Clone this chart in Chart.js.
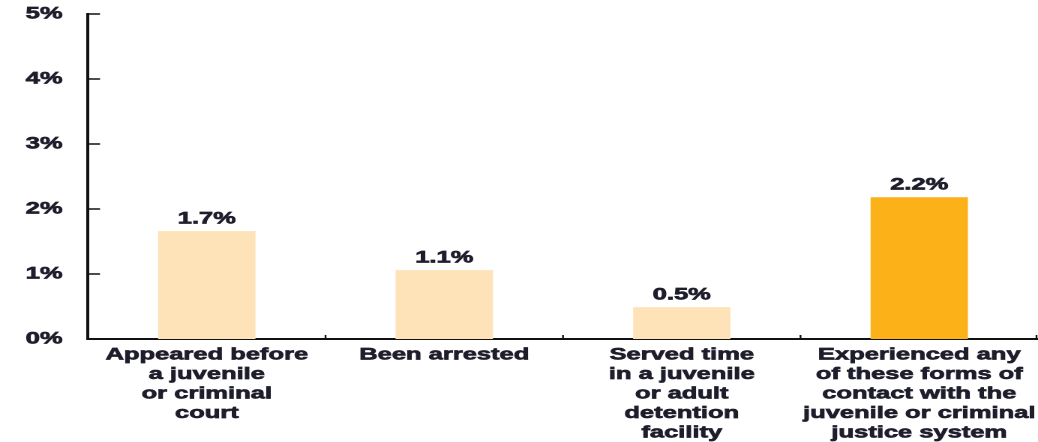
<!DOCTYPE html>
<html>
<head>
<meta charset="utf-8">
<script src="https://cdn.jsdelivr.net/npm/chart.js@4.4.1/dist/chart.umd.min.js"></script>
<style>
  html, body { margin: 0; padding: 0; background: #fff; overflow: hidden; }
  /* the original artwork is stretched sideways, so draw narrow and widen */
  #wrap { width: 692px; height: 442px; transform: scaleX(1.5); transform-origin: 0 0; }
</style>
</head>
<body>
<div id="wrap"><canvas id="contactChart" width="692" height="442"></canvas></div>
<script>
var categories = [
  ["Appeared before", "a juvenile", "or criminal", "court"],
  ["Been arrested"],
  ["Served time", "in a juvenile", "or adult", "detention", "facility"],
  ["Experienced any", "of these forms of", "contact with the", "juvenile or criminal", "justice system"]
];
var percents = [1.66, 1.06, 0.49, 2.18];
var yTicks = [0, 1, 2, 3, 4, 5];

var textColor = '#1d1d2b';
var lightBar = '#fee3b8';
var darkBar = '#fbb117';
var font = { family: "'Liberation Sans', Arial, sans-serif", size: 17, weight: 'bold', lineHeight: 1.15 };

// value labels above bars + inward tick marks
var extras = {
  id: 'extras',
  afterDatasetsDraw: function(chart) {
    var ctx = chart.ctx;
    var meta = chart.getDatasetMeta(0);
    ctx.save();
    ctx.fillStyle = textColor;
    ctx.strokeStyle = textColor;
    ctx.lineWidth = 0.7;
    ctx.font = "bold 17px 'Liberation Sans', Arial, sans-serif";
    ctx.textAlign = 'center';
    ctx.textBaseline = 'bottom';
    meta.data.forEach(function(bar, i) {
      var t = percents[i].toFixed(1) + '%';
      ctx.strokeText(t, bar.x, bar.y - 4);
      ctx.fillText(t, bar.x, bar.y - 4);
    });
    ctx.restore();
  },
  afterDraw: function(chart) {
    var ctx = chart.ctx;
    var x = chart.scales.x, y = chart.scales.y;
    var area = chart.chartArea;
    ctx.save();
    ctx.strokeStyle = '#111';
    ctx.lineWidth = 1.5;
    yTicks.forEach(function(v) {
      if (v === 0) return;
      var py = y.getPixelForValue(v);
      ctx.beginPath();
      ctx.moveTo(area.left, py);
      ctx.lineTo(area.left + 8, py);
      ctx.stroke();
    });
    ctx.lineWidth = 1.2;
    for (var i = 0; i < categories.length; i++) {
      var px = i < categories.length - 1
        ? (x.getPixelForValue(i) + x.getPixelForValue(i + 1)) / 2
        : area.right - 1;
      ctx.beginPath();
      ctx.moveTo(px, area.bottom);
      ctx.lineTo(px, area.bottom - 4);
      ctx.stroke();
    }
    ctx.restore();
  }
};

var ctx = document.getElementById('contactChart').getContext('2d');

var myBarChart = new Chart(ctx, {
  type: 'bar',
  data: {
    labels: categories,
    datasets: [{
      data: percents,
      backgroundColor: [lightBar, lightBar, lightBar, darkBar],
      borderWidth: 0,
      categoryPercentage: 1,
      barPercentage: 0.41
    }]
  },
  options: {
    responsive: false,
    devicePixelRatio: 2,
    animation: false,
    layout: { padding: { top: 14, right: 0, bottom: 0, left: 0 } },
    plugins: { legend: { display: false }, tooltip: { enabled: false } },
    scales: {
      x: {
        grid: { display: false, drawTicks: false },
        border: { display: true, color: '#111', width: 2 },
        ticks: {
          color: textColor, font: font, padding: 6, maxRotation: 0, autoSkip: false,
          textStrokeColor: textColor, textStrokeWidth: 0.7
        },
        afterFit: function(s) { s.height = 103; s.paddingLeft = 0; s.paddingRight = 0; }
      },
      y: {
        min: 0,
        max: 5,
        grid: { display: false, drawTicks: false },
        border: { display: true, color: '#111', width: 2 },
        ticks: {
          stepSize: 1,
          color: textColor,
          font: font,
          padding: 17,
          textStrokeColor: textColor,
          textStrokeWidth: 0.7,
          callback: function(v) { return v + '%'; }
        },
        afterFit: function(s) { s.width = 58.7; s.paddingTop = 0; s.paddingBottom = 0; }
      }
    }
  },
  plugins: [extras]
});
</script>
</body>
</html>
